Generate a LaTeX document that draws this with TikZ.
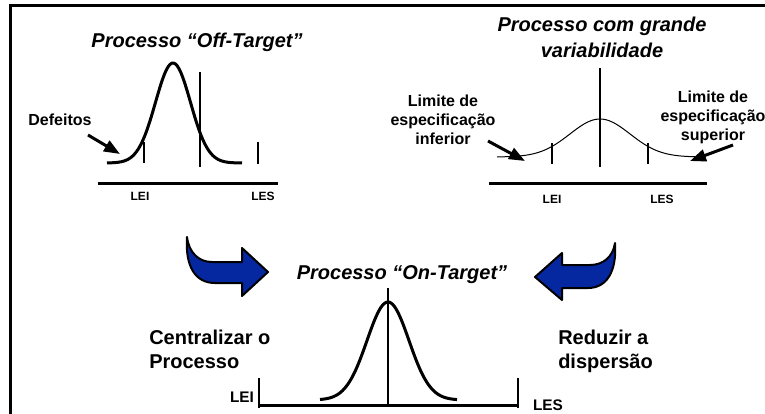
\documentclass[tikz,border=0pt]{standalone}
\usepackage{fontspec}
\setmainfont{Liberation Sans}
\usepackage{tikz}
\usetikzlibrary{positioning}
\usetikzlibrary{arrows.meta}
\definecolor{shiftblue}{RGB}{5,40,160}
\tikzstyle{pointer} = [line width=2.25pt,-{Triangle[length=12pt,width=9pt]}]
\tikzstyle{title} = [inner sep=0pt,font=\fontsize{15}{14.25}\selectfont\bfseries\itshape]
\tikzstyle{label} = [inner sep=0pt,font=\fontsize{12}{14.25}\selectfont\bfseries]
\tikzstyle{limit} = [inner sep=0pt,font=\fontsize{9}{10}\selectfont\bfseries]
\tikzstyle{biglimit} = [inner sep=0pt,font=\fontsize{11.5}{12}\selectfont\bfseries]
\tikzstyle{action} = [inner sep=0pt,align=left,font=\fontsize{15}{18}\selectfont\bfseries]
\tikzstyle{curve} = [line width=2.25pt]
\tikzstyle{bar} = [line width=2pt]
\tikzstyle{bluearrow} = [draw=black,line width=1.5pt,fill=shiftblue,line join=round]

\begin{document}
\begin{tikzpicture}[x=0.75pt,y=-0.75pt]
				\useasboundingbox (0,0) rectangle (765,414);
				
				%Frame
				\draw[line width=2.25pt] (10,420) -- (10,5) -- (770,5);
				
				%Off-target process
				\node[title,anchor=base] (offtitle) at (197,47) {Processo “Off-Target”};
				\draw[curve] plot[domain=107:242,samples=80,smooth] (\x,{163-100*exp(-0.5*((\x-173)/17.5)*((\x-173)/17.5))});
				\draw[bar] (200,72) -- (200,167);
				\draw[bar] (144,142) -- (144,163);
				\draw[bar] (258,142) -- (258,164);
				\draw[curve] (98,183) -- (278,183);
				\node[limit,anchor=base] (offlei) at (140,200) {LEI};
				\node[limit,anchor=base] (offles) at (263,200) {LES};
				\node[label,anchor=base] (defects) at (60,125) {Defeitos};
				\coordinate (defstart) at (88,135);
				\coordinate (defend) at (120,154);
				\draw[pointer] (defstart) -- (defend);
				
				%Wide process
				\node[title,anchor=north,align=center,font=\fontsize{15}{19.5}\selectfont\bfseries\itshape] (widetitle) at (602,17) {Processo com grande\\variabilidade};
				\draw[line width=0.75pt] plot[domain=497:697,samples=80,smooth] (\x,{157-38*exp(-0.5*((\x-600)/30)*((\x-600)/30))});
				\draw[bar] (600,68) -- (600,167);
				\draw[bar] (552,143) -- (552,164);
				\draw[bar] (648,143) -- (648,164);
				\draw[curve] (489,183) -- (707,183);
				\node[limit,anchor=base] (widelei) at (552,203) {LEI};
				\node[limit,anchor=base] (wideles) at (662,203) {LES};
				\node[label,anchor=north,align=center] (lowerlim) at (443,95) {Limite de\\especificação\\inferior};
				\node[label,anchor=north,align=center] (upperlim) at (713,91) {Limite de\\especificação\\superior};
				\coordinate (lowstart) at (488,141);
				\coordinate (lowend) at (525,161);
				\coordinate (upstart) at (733,145);
				\coordinate (upend) at (690,161);
				\draw[pointer] (lowstart) -- (lowend);
				\draw[pointer] (upstart) -- (upend);
				
				%Blue arrows
				\draw[bluearrow] (187,237) .. controls (185,266) and (195,283) .. (215,283) -- (242,283) -- (242,296)
					-- (268,272) -- (242,248) -- (242,262) -- (212,262) .. controls (199,262) and (189,253) .. (187,237) -- cycle;
				\draw[bluearrow] (615,243) .. controls (617,271) and (607,288) .. (588,288) -- (562,288) -- (562,300)
					-- (535,277) -- (562,253) -- (562,265) -- (590,265) .. controls (603,265) and (613,257) .. (615,243) -- cycle;
				\node[action,anchor=north west] (center) at (149,330) {Centralizar o\\Processo};
				\node[action,anchor=north west] (reduce) at (558,330) {Reduzir a\\dispersão};
				
				%On-target process
				\node[title,anchor=base] (ontitle) at (402,279) {Processo “On-Target”};
				\draw[curve] plot[domain=320:457,samples=80,smooth] (\x,{400-98*exp(-0.5*((\x-388)/21)*((\x-388)/21))});
				\draw[bar] (388,288) -- (388,406);
				\draw[bar] (259,378) -- (259,408);
				\draw[bar] (518,378) -- (518,408);
				\draw[curve] (259,405) -- (518,405);
				\node[biglimit,anchor=base] (onlei) at (242,402) {LEI};
				\node[biglimit,anchor=base] (onles) at (548,410) {LES};
				
			\end{tikzpicture}
\end{document}
